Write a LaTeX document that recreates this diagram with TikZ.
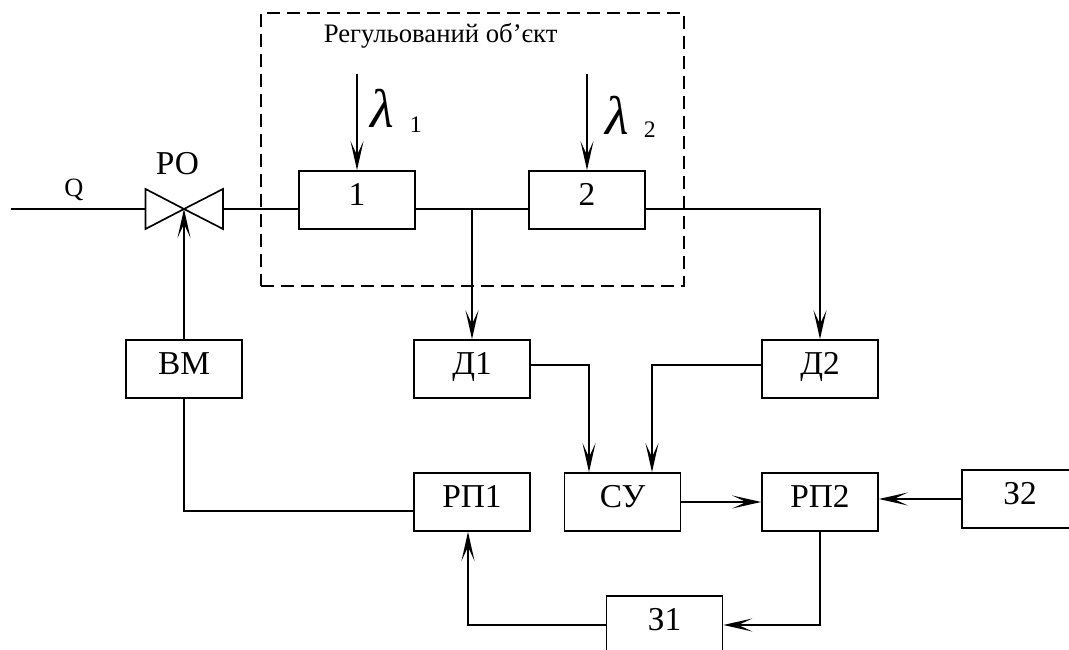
\documentclass[tikz,border=0pt]{standalone}
\usepackage{fontspec}
\setmainfont{Liberation Serif}
\usetikzlibrary{arrows.meta}

\begin{document}
\begin{tikzpicture}[
    line width=0.95pt,
    font=\fontsize{19}{22}\selectfont,
    unit/.style={draw,minimum width=2.32cm,minimum height=1.16cm,inner sep=0pt,
                 text height=2.4mm,text depth=0pt},
    flow/.style={-{Stealth[length=5.8mm,width=2.6mm,inset=2.8mm]}},
    tag/.style={inner sep=0pt,anchor=base west},
    lam/.style={tag,font=\fontsize{31}{33}\selectfont\itshape},
    idx/.style={tag,font=\fontsize{13.5}{15}\selectfont}
  ]
  \useasboundingbox (0,0) rectangle (21.38,13);
  \clip (0,0) rectangle (21.38,13);

  % regulated object
  \node[draw,dash pattern=on 2.6mm off 1.4mm,minimum width=8.46cm,minimum height=5.46cm] (obj) at (9.45,10.01) {};
  \node[tag,font=\fontsize{15.2}{17}\selectfont] (objname) at (6.46,12.14) {Регульований об’єкт};

  % units
  \node[unit] (u1) at (7.14,9.00) {1};
  \node[unit] (u2) at (11.74,9.00) {2};
  \node[unit] (vm) at (3.68,5.62) {ВМ};
  \node[unit] (d1) at (9.44,5.62) {Д1};
  \node[unit] (d2) at (16.40,5.62) {Д2};
  \node[unit] (rp1) at (9.44,2.96) {РП1};
  \node[unit] (su) at (12.45,2.96) {СУ};
  \node[unit] (rp2) at (16.40,2.96) {РП2};
  \node[unit] (z2) at (20.40,3.02) {З2};
  \node[unit] (z1) at (13.29,0.50) {З1};

  % valve
  \coordinate (valve) at (3.68,8.82);
  \coordinate (valveL) at (2.91,8.82);
  \coordinate (valveR) at (4.46,8.82);
  \coordinate (inlet) at (0.22,8.82);
  \draw (valve) -- (2.91,9.22) -- (2.91,8.42) -- cycle;
  \draw (valve) -- (4.46,9.22) -- (4.46,8.42) -- cycle;
  \node[anchor=base,inner sep=0pt] (ro) at (3.55,9.50) {РО};
  \node[anchor=base,inner sep=0pt,font=\fontsize{15}{17}\selectfont] (q) at (1.48,9.06) {Q};

  % disturbances
  \coordinate (lamA) at (7.14,11.52);
  \coordinate (lamB) at (11.74,11.52);
  \draw[flow] (lamA) -- (u1.north);
  \draw[flow] (lamB) -- (u2.north);
  \node[lam] (lamAt) at (7.40,10.44) {λ};
  \node[idx] (lamAi) at (8.18,10.34) {1};
  \node[lam] (lamBt) at (12.10,10.30) {λ};
  \node[idx] (lamBi) at (12.86,10.24) {2};

  % main line
  \draw (inlet) -- (valveL);
  \draw (valveR) -- (u1.west |- valveR);
  \draw (u1.east |- valveR) -- (u2.west |- valveR);
  \draw[flow] (d1.north |- valveR) -- (d1.north);
  \draw[flow] (u2.east |- valveR) -| (d2.north);

  % control loop
  \draw[flow] ([yshift=.8mm]d1.east) -| ([xshift=-6.7mm]su.north);
  \draw[flow] ([yshift=.8mm]d2.west) -| ([xshift=5.9mm]su.north);
  \draw[flow] (su.east) -- (rp2.west);
  \draw[flow] (z2.west) -- (z2.west -| rp2.east);
  \draw[flow] (rp2.south) |- (z1.east);
  \draw[flow] (z1.west) -| ([xshift=-.8mm]rp1.south);
  \draw (vm.south) |- ([yshift=-1.8mm]rp1.west);
  \draw[flow] (vm.north) -- (valve);
\end{tikzpicture}
\end{document}
